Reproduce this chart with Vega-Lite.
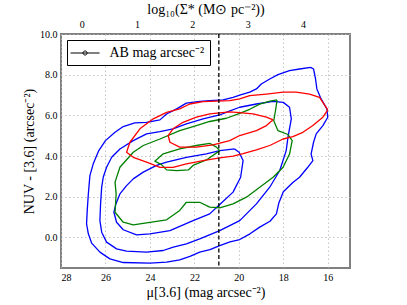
{
  "$schema": "https://vega.github.io/schema/vega-lite/v6.json",
  "width": 289,
  "height": 234,
  "autosize": "none",
  "padding": {"left": 61, "top": 34, "right": 57, "bottom": 37},
  "config": {
    "font": "Liberation Serif",
    "view": {"stroke": "#808080", "strokeWidth": 2},
    "axis": {"domain": false, "ticks": false, "labelFontSize": 10, "labelColor": "black", "titleFontSize": 14, "titleFontWeight": "normal", "titleColor": "black", "gridColor": "#b8b8b8", "gridDash": [1.5, 2.5], "gridWidth": 0.8, "labelPadding": 4}
  },
  "datasets": {
    "contours": [
      {"g":"b1","c":"b","i":1,"x":16.77,"y":8.36},{"g":"b1","c":"b","i":2,"x":17.27,"y":8.28},{"g":"b1","c":"b","i":3,"x":17.72,"y":8.2},{"g":"b1","c":"b","i":4,"x":18.24,"y":8.0},{"g":"b1","c":"b","i":5,"x":18.61,"y":7.79},{"g":"b1","c":"b","i":6,"x":18.99,"y":7.54},{"g":"b1","c":"b","i":7,"x":19.21,"y":7.3},{"g":"b1","c":"b","i":8,"x":19.51,"y":7.14},{"g":"b1","c":"b","i":9,"x":19.96,"y":7.0},{"g":"b1","c":"b","i":10,"x":20.26,"y":6.89},{"g":"b1","c":"b","i":11,"x":20.71,"y":6.76},{"g":"b1","c":"b","i":12,"x":21.31,"y":6.73},{"g":"b1","c":"b","i":13,"x":21.76,"y":6.69},{"g":"b1","c":"b","i":14,"x":22.36,"y":6.6},{"g":"b1","c":"b","i":15,"x":22.8,"y":6.32},{"g":"b1","c":"b","i":16,"x":23.25,"y":6.07},{"g":"b1","c":"b","i":17,"x":23.55,"y":5.78},{"g":"b1","c":"b","i":18,"x":24.15,"y":5.66},{"g":"b1","c":"b","i":19,"x":24.68,"y":5.63},{"g":"b1","c":"b","i":20,"x":25.2,"y":5.45},{"g":"b1","c":"b","i":21,"x":25.57,"y":5.17},{"g":"b1","c":"b","i":22,"x":26.0,"y":4.76},{"g":"b1","c":"b","i":23,"x":26.3,"y":4.27},{"g":"b1","c":"b","i":24,"x":26.55,"y":3.62},{"g":"b1","c":"b","i":25,"x":26.7,"y":3.04},{"g":"b1","c":"b","i":26,"x":26.77,"y":2.14},{"g":"b1","c":"b","i":27,"x":26.82,"y":1.33},{"g":"b1","c":"b","i":28,"x":26.85,"y":0.67},{"g":"b1","c":"b","i":29,"x":26.77,"y":0.18},{"g":"b1","c":"b","i":30,"x":26.62,"y":-0.28},{"g":"b1","c":"b","i":31,"x":26.25,"y":-0.72},{"g":"b1","c":"b","i":32,"x":25.8,"y":-1.05},{"g":"b1","c":"b","i":33,"x":25.2,"y":-1.23},{"g":"b1","c":"b","i":34,"x":24.0,"y":-1.26},{"g":"b1","c":"b","i":35,"x":23.25,"y":-1.21},{"g":"b1","c":"b","i":36,"x":22.66,"y":-1.1},{"g":"b1","c":"b","i":37,"x":22.2,"y":-0.93},{"g":"b1","c":"b","i":38,"x":21.76,"y":-0.72},{"g":"b1","c":"b","i":39,"x":21.3,"y":-0.6},{"g":"b1","c":"b","i":40,"x":20.86,"y":-0.4},{"g":"b1","c":"b","i":41,"x":20.4,"y":-0.22},{"g":"b1","c":"b","i":42,"x":19.96,"y":-0.1},{"g":"b1","c":"b","i":43,"x":19.5,"y":0.18},{"g":"b1","c":"b","i":44,"x":19.06,"y":0.51},{"g":"b1","c":"b","i":45,"x":18.6,"y":0.8},{"g":"b1","c":"b","i":46,"x":18.31,"y":1.16},{"g":"b1","c":"b","i":47,"x":18.2,"y":1.7},{"g":"b1","c":"b","i":48,"x":18.0,"y":2.25},{"g":"b1","c":"b","i":49,"x":17.57,"y":2.7},{"g":"b1","c":"b","i":50,"x":17.27,"y":2.96},{"g":"b1","c":"b","i":51,"x":16.9,"y":3.45},{"g":"b1","c":"b","i":52,"x":16.67,"y":3.78},{"g":"b1","c":"b","i":53,"x":16.75,"y":4.1},{"g":"b1","c":"b","i":54,"x":16.64,"y":4.68},{"g":"b1","c":"b","i":55,"x":16.52,"y":5.09},{"g":"b1","c":"b","i":56,"x":16.22,"y":5.5},{"g":"b1","c":"b","i":57,"x":16.0,"y":5.91},{"g":"b1","c":"b","i":58,"x":16.04,"y":6.32},{"g":"b1","c":"b","i":59,"x":16.3,"y":6.81},{"g":"b1","c":"b","i":60,"x":16.49,"y":7.3},{"g":"b1","c":"b","i":61,"x":16.55,"y":7.79},{"g":"b1","c":"b","i":62,"x":16.64,"y":8.28},{"g":"b1","c":"b","i":63,"x":16.77,"y":8.36},
      {"g":"b2","c":"b","i":1,"x":18.46,"y":6.69},{"g":"b2","c":"b","i":2,"x":19.21,"y":6.56},{"g":"b2","c":"b","i":3,"x":19.96,"y":6.4},{"g":"b2","c":"b","i":4,"x":20.46,"y":6.2},{"g":"b2","c":"b","i":5,"x":20.86,"y":6.02},{"g":"b2","c":"b","i":6,"x":21.61,"y":5.83},{"g":"b2","c":"b","i":7,"x":22.36,"y":5.58},{"g":"b2","c":"b","i":8,"x":22.96,"y":5.34},{"g":"b2","c":"b","i":9,"x":23.55,"y":5.2},{"g":"b2","c":"b","i":10,"x":24.15,"y":5.09},{"g":"b2","c":"b","i":11,"x":24.75,"y":4.76},{"g":"b2","c":"b","i":12,"x":25.35,"y":4.35},{"g":"b2","c":"b","i":13,"x":25.72,"y":3.94},{"g":"b2","c":"b","i":14,"x":25.95,"y":3.45},{"g":"b2","c":"b","i":15,"x":26.1,"y":2.96},{"g":"b2","c":"b","i":16,"x":26.17,"y":2.47},{"g":"b2","c":"b","i":17,"x":26.22,"y":1.65},{"g":"b2","c":"b","i":18,"x":26.25,"y":0.83},{"g":"b2","c":"b","i":19,"x":26.17,"y":0.26},{"g":"b2","c":"b","i":20,"x":25.95,"y":-0.23},{"g":"b2","c":"b","i":21,"x":25.5,"y":-0.56},{"g":"b2","c":"b","i":22,"x":25.05,"y":-0.67},{"g":"b2","c":"b","i":23,"x":24.15,"y":-0.72},{"g":"b2","c":"b","i":24,"x":23.4,"y":-0.64},{"g":"b2","c":"b","i":25,"x":22.95,"y":-0.47},{"g":"b2","c":"b","i":26,"x":22.36,"y":-0.31},{"g":"b2","c":"b","i":27,"x":21.76,"y":-0.07},{"g":"b2","c":"b","i":28,"x":20.86,"y":0.34},{"g":"b2","c":"b","i":29,"x":19.96,"y":0.83},{"g":"b2","c":"b","i":30,"x":19.21,"y":1.65},{"g":"b2","c":"b","i":31,"x":18.61,"y":2.47},{"g":"b2","c":"b","i":32,"x":18.16,"y":3.29},{"g":"b2","c":"b","i":33,"x":17.87,"y":4.27},{"g":"b2","c":"b","i":34,"x":17.79,"y":4.93},{"g":"b2","c":"b","i":35,"x":17.64,"y":5.83},{"g":"b2","c":"b","i":36,"x":17.72,"y":6.4},{"g":"b2","c":"b","i":37,"x":18.0,"y":6.64},{"g":"b2","c":"b","i":38,"x":18.46,"y":6.69},
      {"g":"b3","c":"b","i":1,"x":20.19,"y":4.35},{"g":"b3","c":"b","i":2,"x":20.86,"y":4.27},{"g":"b3","c":"b","i":3,"x":21.46,"y":4.11},{"g":"b3","c":"b","i":4,"x":22.36,"y":3.94},{"g":"b3","c":"b","i":5,"x":23.25,"y":3.7},{"g":"b3","c":"b","i":6,"x":23.7,"y":3.54},{"g":"b3","c":"b","i":7,"x":24.3,"y":3.21},{"g":"b3","c":"b","i":8,"x":24.75,"y":2.88},{"g":"b3","c":"b","i":9,"x":25.05,"y":2.55},{"g":"b3","c":"b","i":10,"x":25.35,"y":2.14},{"g":"b3","c":"b","i":11,"x":25.53,"y":1.65},{"g":"b3","c":"b","i":12,"x":25.62,"y":1.24},{"g":"b3","c":"b","i":13,"x":25.5,"y":0.75},{"g":"b3","c":"b","i":14,"x":25.2,"y":0.38},{"g":"b3","c":"b","i":15,"x":24.6,"y":0.13},{"g":"b3","c":"b","i":16,"x":24.0,"y":0.18},{"g":"b3","c":"b","i":17,"x":23.1,"y":0.34},{"g":"b3","c":"b","i":18,"x":22.06,"y":0.83},{"g":"b3","c":"b","i":19,"x":21.31,"y":1.16},{"g":"b3","c":"b","i":20,"x":20.86,"y":1.62},{"g":"b3","c":"b","i":21,"x":20.26,"y":2.23},{"g":"b3","c":"b","i":22,"x":19.92,"y":2.96},{"g":"b3","c":"b","i":23,"x":19.81,"y":3.78},{"g":"b3","c":"b","i":24,"x":19.99,"y":4.19},{"g":"b3","c":"b","i":25,"x":20.19,"y":4.35},
      {"g":"g1","c":"g","i":1,"x":18.28,"y":6.76},{"g":"g1","c":"g","i":2,"x":18.6,"y":6.7},{"g":"g1","c":"g","i":3,"x":19.06,"y":6.55},{"g":"g1","c":"g","i":4,"x":19.51,"y":6.3},{"g":"g1","c":"g","i":5,"x":19.96,"y":6.1},{"g":"g1","c":"g","i":6,"x":20.56,"y":5.86},{"g":"g1","c":"g","i":7,"x":21.31,"y":5.7},{"g":"g1","c":"g","i":8,"x":21.91,"y":5.5},{"g":"g1","c":"g","i":9,"x":22.66,"y":5.25},{"g":"g1","c":"g","i":10,"x":23.55,"y":4.84},{"g":"g1","c":"g","i":11,"x":24.3,"y":4.52},{"g":"g1","c":"g","i":12,"x":24.75,"y":4.19},{"g":"g1","c":"g","i":13,"x":25.35,"y":3.45},{"g":"g1","c":"g","i":14,"x":25.57,"y":2.72},{"g":"g1","c":"g","i":15,"x":25.52,"y":2.14},{"g":"g1","c":"g","i":16,"x":25.57,"y":1.24},{"g":"g1","c":"g","i":17,"x":25.2,"y":0.75},{"g":"g1","c":"g","i":18,"x":24.75,"y":0.62},{"g":"g1","c":"g","i":19,"x":24.15,"y":0.72},{"g":"g1","c":"g","i":20,"x":23.25,"y":0.87},{"g":"g1","c":"g","i":21,"x":22.66,"y":1.33},{"g":"g1","c":"g","i":22,"x":22.36,"y":1.73},{"g":"g1","c":"g","i":23,"x":21.76,"y":1.73},{"g":"g1","c":"g","i":24,"x":21.31,"y":1.49},{"g":"g1","c":"g","i":25,"x":20.86,"y":1.46},{"g":"g1","c":"g","i":26,"x":20.26,"y":1.65},{"g":"g1","c":"g","i":27,"x":19.66,"y":1.98},{"g":"g1","c":"g","i":28,"x":19.06,"y":2.47},{"g":"g1","c":"g","i":29,"x":18.46,"y":2.96},{"g":"g1","c":"g","i":30,"x":18.01,"y":3.45},{"g":"g1","c":"g","i":31,"x":17.72,"y":4.1},{"g":"g1","c":"g","i":32,"x":17.6,"y":4.76},{"g":"g1","c":"g","i":33,"x":17.79,"y":5.06},{"g":"g1","c":"g","i":34,"x":18.24,"y":5.25},{"g":"g1","c":"g","i":35,"x":18.43,"y":5.74},{"g":"g1","c":"g","i":36,"x":18.35,"y":6.24},{"g":"g1","c":"g","i":37,"x":18.28,"y":6.76},
      {"g":"g2","c":"g","i":1,"x":21.31,"y":4.63},{"g":"g2","c":"g","i":2,"x":21.01,"y":4.44},{"g":"g2","c":"g","i":3,"x":20.86,"y":4.27},{"g":"g2","c":"g","i":4,"x":21.46,"y":3.81},{"g":"g2","c":"g","i":5,"x":22.06,"y":3.54},{"g":"g2","c":"g","i":6,"x":22.27,"y":3.32},{"g":"g2","c":"g","i":7,"x":22.8,"y":3.29},{"g":"g2","c":"g","i":8,"x":23.25,"y":3.32},{"g":"g2","c":"g","i":9,"x":23.48,"y":3.58},{"g":"g2","c":"g","i":10,"x":23.78,"y":3.75},{"g":"g2","c":"g","i":11,"x":23.4,"y":4.11},{"g":"g2","c":"g","i":12,"x":22.66,"y":4.35},{"g":"g2","c":"g","i":13,"x":21.91,"y":4.52},{"g":"g2","c":"g","i":14,"x":21.31,"y":4.63},
      {"g":"r1","c":"r","i":1,"x":16.0,"y":6.27},{"g":"r1","c":"r","i":2,"x":16.37,"y":6.89},{"g":"r1","c":"r","i":3,"x":16.82,"y":7.05},{"g":"r1","c":"r","i":4,"x":17.42,"y":7.14},{"g":"r1","c":"r","i":5,"x":18.01,"y":7.14},{"g":"r1","c":"r","i":6,"x":18.76,"y":7.05},{"g":"r1","c":"r","i":7,"x":19.51,"y":6.97},{"g":"r1","c":"r","i":8,"x":19.96,"y":6.81},{"g":"r1","c":"r","i":9,"x":20.41,"y":6.73},{"g":"r1","c":"r","i":10,"x":21.61,"y":6.68},{"g":"r1","c":"r","i":11,"x":22.21,"y":6.56},{"g":"r1","c":"r","i":12,"x":22.66,"y":6.32},{"g":"r1","c":"r","i":13,"x":23.25,"y":6.15},{"g":"r1","c":"r","i":14,"x":23.85,"y":5.83},{"g":"r1","c":"r","i":15,"x":24.45,"y":5.34},{"g":"r1","c":"r","i":16,"x":24.9,"y":4.68},{"g":"r1","c":"r","i":17,"x":25.05,"y":4.19},{"g":"r1","c":"r","i":18,"x":24.75,"y":3.94},{"g":"r1","c":"r","i":19,"x":24.15,"y":3.7},{"g":"r1","c":"r","i":20,"x":23.55,"y":3.45},{"g":"r1","c":"r","i":21,"x":22.96,"y":3.45},{"g":"r1","c":"r","i":22,"x":22.36,"y":3.62},{"g":"r1","c":"r","i":23,"x":21.61,"y":3.78},{"g":"r1","c":"r","i":24,"x":20.86,"y":3.91},{"g":"r1","c":"r","i":25,"x":20.26,"y":4.0},{"g":"r1","c":"r","i":26,"x":19.81,"y":4.12},{"g":"r1","c":"r","i":27,"x":19.21,"y":4.3},{"g":"r1","c":"r","i":28,"x":18.61,"y":4.52},{"g":"r1","c":"r","i":29,"x":18.01,"y":4.84},{"g":"r1","c":"r","i":30,"x":17.57,"y":4.96},{"g":"r1","c":"r","i":31,"x":17.12,"y":5.17},{"g":"r1","c":"r","i":32,"x":16.67,"y":5.5},{"g":"r1","c":"r","i":33,"x":16.22,"y":5.91},{"g":"r1","c":"r","i":34,"x":16.0,"y":6.27},
      {"g":"r2","c":"r","i":1,"x":18.46,"y":5.78},{"g":"r2","c":"r","i":2,"x":18.76,"y":5.91},{"g":"r2","c":"r","i":3,"x":19.36,"y":6.07},{"g":"r2","c":"r","i":4,"x":20.11,"y":6.15},{"g":"r2","c":"r","i":5,"x":20.41,"y":6.17},{"g":"r2","c":"r","i":6,"x":21.31,"y":6.07},{"g":"r2","c":"r","i":7,"x":21.91,"y":5.91},{"g":"r2","c":"r","i":8,"x":22.51,"y":5.66},{"g":"r2","c":"r","i":9,"x":22.96,"y":5.34},{"g":"r2","c":"r","i":10,"x":23.18,"y":5.01},{"g":"r2","c":"r","i":11,"x":23.1,"y":4.68},{"g":"r2","c":"r","i":12,"x":22.66,"y":4.44},{"g":"r2","c":"r","i":13,"x":21.91,"y":4.44},{"g":"r2","c":"r","i":14,"x":21.16,"y":4.55},{"g":"r2","c":"r","i":15,"x":20.41,"y":4.76},{"g":"r2","c":"r","i":16,"x":19.96,"y":5.01},{"g":"r2","c":"r","i":17,"x":19.21,"y":5.25},{"g":"r2","c":"r","i":18,"x":18.76,"y":5.5},{"g":"r2","c":"r","i":19,"x":18.46,"y":5.78}
    ]
  },
  "layer": [
    {
      "layer": [
        {
          "data": {"name": "contours"},
          "mark": {"type": "line", "strokeWidth": 1.3, "strokeJoin": "round"},
          "encoding": {
            "x": {"field": "x", "type": "quantitative", "scale": {"domain": [15, 28], "reverse": true, "nice": false, "zero": false},
                  "axis": {"orient": "bottom", "values": [28, 26, 24, 22, 20, 18, 16], "format": "d", "title": "μ[3.6] (mag arcsec⁻²)", "titlePadding": 3, "grid": true}},
            "y": {"field": "y", "type": "quantitative", "scale": {"domain": [-1.5, 10], "nice": false, "zero": false},
                  "axis": {"values": [0, 2, 4, 6, 8, 10], "format": ".1f", "title": "NUV - [3.6] (arcsec⁻²)", "titlePadding": 3, "grid": true}},
            "detail": {"field": "g", "type": "nominal"},
            "color": {"field": "c", "type": "nominal", "scale": {"domain": ["b", "g", "r"], "range": ["#0000ff", "#008000", "#ff0000"]}, "legend": null},
            "order": {"field": "i", "type": "quantitative"}
          }
        },
        {
          "data": {"values": [{"x": 20.9}]},
          "mark": {"type": "rule", "color": "black", "strokeDash": [4, 2.5], "strokeWidth": 1.3},
          "encoding": {"x": {"field": "x", "type": "quantitative"}}
        },
        {
          "data": {"values": [{"lab": "AB mag arcsec⁻²"}]},
          "mark": {"type": "point", "opacity": 0},
          "encoding": {
            "stroke": {"field": "lab", "type": "nominal", "scale": {"range": ["black"]},
              "legend": {"title": null, "orient": "top-left", "offset": 6, "strokeColor": "black", "fillColor": "white", "padding": 5, "cornerRadius": 0,
                "symbolType": "M-1.3,0H2.7M0.98,0A0.28,0.28,0,1,1,0.42,0A0.28,0.28,0,1,1,0.98,0", "symbolSize": 210, "symbolStrokeWidth": 1, "symbolStrokeColor": "black", "symbolFillColor": "black", "symbolOpacity": 1,
                "labelFontSize": 14, "labelOffset": 21.5, "labelColor": "black", "labelFont": "Liberation Serif"}}
          }
        }
      ]
    },
    {
      "data": {"values": [{"lg": 0}, {"lg": 4}]},
      "mark": {"type": "point", "opacity": 0},
      "encoding": {
        "x": {"field": "lg", "type": "quantitative", "scale": {"domain": [-0.375, 4.85], "nice": false, "zero": false},
              "axis": {"orient": "top", "values": [0, 1, 2, 3, 4], "format": "d", "grid": false, "title": "log₁₀(Σ* (M⊙ pc⁻²))", "labelPadding": 5, "titlePadding": 3}}
      }
    }
  ],
  "resolve": {"scale": {"x": "independent"}, "axis": {"x": "independent"}}
}
